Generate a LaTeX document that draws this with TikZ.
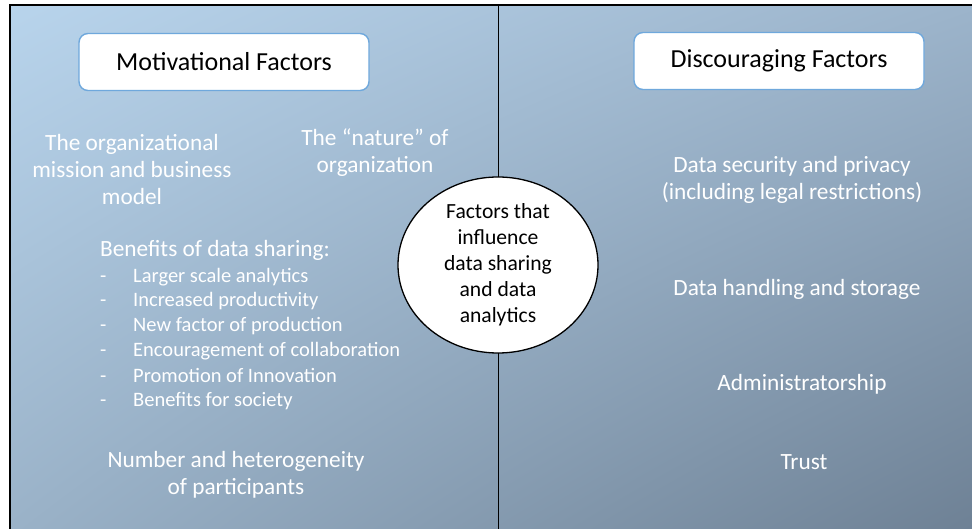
\documentclass[tikz,border=0pt]{standalone}
\usepackage{fontspec}
\setmainfont{Carlito}
\usetikzlibrary{shapes.geometric,shadings}
\definecolor{bgTL}{HTML}{B8D4EC}
\definecolor{bgTR}{HTML}{9CB4CB}
\definecolor{bgBL}{HTML}{9AB2C8}
\definecolor{bgBR}{HTML}{6E8195}
\definecolor{boxedge}{HTML}{6FA8DC}
\tikzset{
  headbox/.style={draw=boxedge, line width=1.4pt, fill=white, rounded corners=9pt,
    minimum width=290pt, minimum height=57pt, font=\fontsize{26}{30}\selectfont, text=black},
  wtext/.style={text=white, inner sep=0pt, font=\fontsize{23.3}{27}\selectfont, align=center},
  wsmall/.style={text=white, inner sep=0pt, font=\fontsize{20.5}{24}\selectfont, anchor=base west},
  hub/.style={draw=black, line width=1.3pt, fill=white, ellipse, minimum width=200pt,
    minimum height=176pt, inner sep=0pt, align=center, font=\fontsize{21.6}{26}\selectfont}
}
\begin{document}
\begin{tikzpicture}[x=1pt,y=-1pt]
\useasboundingbox (0,0) rectangle (972,529);
% panel background
\shade[upper left=bgTL, upper right=bgTR, lower left=bgBL, lower right=bgBR]
  (10,5) rectangle (972,529);
\draw[line width=1.5pt] (10,529) -- (10,5) -- (972,5);
% centre divider
\coordinate (divtop) at (498,5);
\coordinate (divbot) at (498,529);
\draw[line width=1pt] (divtop) -- (divbot);
% hub
\node[hub] (hub) at (498,265) {Factors that\\influence\\data sharing\\and data\\analytics};
% headings
\node[headbox] (mot) at (224,62) {Motivational Factors};
\node[headbox] (dis) at (779,61) {Discouraging Factors};
% motivational factors (multi-line labels are placed by their last baseline)
\node[wtext, anchor=base] (mission) at (132,205) {The organizational\\mission and business\\model};
\node[wtext, anchor=base] (nature) at (375,173) {The “nature” of\\organization};
\node[wtext, anchor=base west] (benefits) at (100,257) {Benefits of data sharing:};
\foreach \y/\t [count=\i] in {283/Larger scale analytics,307/Increased productivity,
  332/New factor of production,356/Encouragement of collaboration,
  382/Promotion of Innovation,406/Benefits for society}{
  \node[wsmall] (dash\i) at (100,\y) {-};
  \node[wsmall] (item\i) at (133,\y) {\t};
}
\node[wtext, anchor=base] (number) at (236,494) {Number and heterogeneity\\of participants};
% discouraging factors
\node[wtext, anchor=base] (security) at (792,200) {Data security and privacy\\(including legal restrictions)};
\node[wtext, anchor=base] (handling) at (797,296) {Data handling and storage};
\node[wtext, anchor=base] (admin) at (802,390) {Administratorship};
\node[wtext, anchor=base] (trust) at (804,469) {Trust};
\end{tikzpicture}
\end{document}
